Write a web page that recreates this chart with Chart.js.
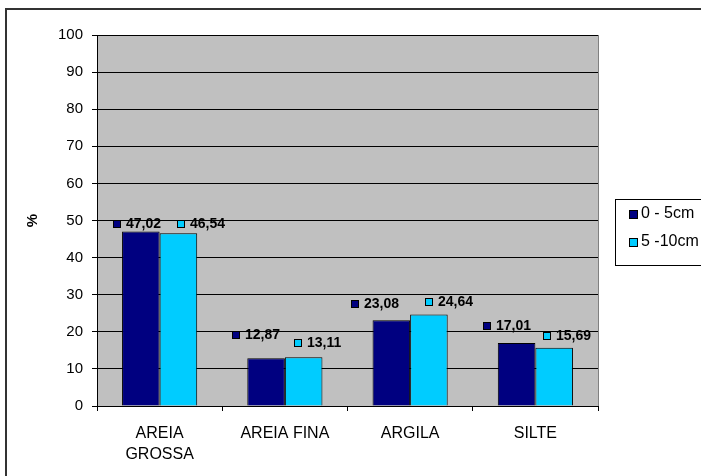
<!DOCTYPE html>
<html>
<head>
<meta charset="utf-8">
<script src="https://cdn.jsdelivr.net/npm/chart.js@4.4.1/dist/chart.umd.min.js"></script>
<style>
  html, body { margin: 0; padding: 0; background: #fff; }
  #chart { display: block; }
</style>
</head>
<body>
<canvas id="chart" width="701" height="476"></canvas>
<script>
// Granulometria por profundidade
const categories = [["AREIA", "GROSSA"], "AREIA FINA", "ARGILA", "SILTE"];
const seriesNames = ["0 - 5cm", "5 -10cm"];
const depth0to5 = [47.02, 12.87, 23.08, 17.01];
const depth5to10 = [46.54, 13.11, 24.64, 15.69];
const yTickValues = [0, 10, 20, 30, 40, 50, 60, 70, 80, 90, 100];

const seriesColors = ["#000080", "#00CCFF"];
const FONT = "'Liberation Sans', Arial, sans-serif";

// where each value label sits, in px from the bar's top-left corner
const labelShift = [
    [[-9, -8], [-15, -23], [-22, -16], [-15, -17]],
    [[17, -9], [9, -14], [15, -13], [8, -12]],
];

const fmt = (v) => v.toFixed(2).replace(".", ",");

const frame = {
    id: "frame",
    beforeDraw(chart) {
        const { ctx, chartArea: a } = chart;
        ctx.save();
        ctx.fillStyle = "#fff";
        ctx.fillRect(0, 0, chart.width, chart.height);
        // outer chart border
        ctx.strokeStyle = "#333";
        ctx.lineWidth = 2;
        ctx.beginPath();
        ctx.moveTo(6, chart.height);
        ctx.lineTo(6, 9);
        ctx.lineTo(chart.width, 9);
        ctx.stroke();
        // plot area
        ctx.fillStyle = "#C0C0C0";
        ctx.fillRect(a.left, a.top, a.right - a.left, a.bottom - a.top);
        ctx.strokeStyle = "#808080";
        ctx.lineWidth = 1;
        ctx.beginPath();
        ctx.moveTo(a.right + 0.5, a.top);
        ctx.lineTo(a.right + 0.5, a.bottom);
        ctx.stroke();
        ctx.restore();
    },
    afterDatasetsDraw(chart) {
        const { ctx } = chart;
        ctx.save();
        ctx.font = "bold 14px " + FONT;
        ctx.textBaseline = "middle";
        ctx.textAlign = "left";
        chart.data.datasets.forEach((ds, i) => {
            chart.getDatasetMeta(i).data.forEach((bar, j) => {
                const [dx, dy] = labelShift[i][j];
                const x = Math.round(bar.x - bar.width / 2 + dx);
                const y = Math.round(bar.y + dy);
                ctx.fillStyle = seriesColors[i];
                ctx.fillRect(x, y - 4, 7, 7);
                ctx.strokeStyle = "#000";
                ctx.lineWidth = 1;
                ctx.strokeRect(x + 0.5, y - 3.5, 7, 7);
                ctx.fillStyle = "#000";
                ctx.fillText(fmt(ds.data[j]), x + 13, y);
            });
        });
        ctx.restore();
    },
    afterDraw(chart) {
        const { ctx } = chart;
        ctx.save();
        // legend box
        ctx.fillStyle = "#fff";
        ctx.fillRect(615, 199, 100, 66);
        ctx.strokeStyle = "#000";
        ctx.lineWidth = 1;
        ctx.strokeRect(615.5, 199.5, 100, 66);
        ctx.font = "16px " + FONT;
        ctx.textBaseline = "middle";
        seriesNames.forEach((name, i) => {
            const y = 214 + i * 28;
            ctx.fillStyle = seriesColors[i];
            ctx.fillRect(629, y - 4, 8, 8);
            ctx.strokeRect(629.5, y - 3.5, 8, 8);
            ctx.fillStyle = "#000";
            ctx.fillText(name, 641, y);
        });
        ctx.restore();
    },
};

new Chart(document.getElementById("chart"), {
    type: "bar",
    data: {
        labels: categories,
        datasets: [
            { label: seriesNames[0], data: depth0to5, backgroundColor: seriesColors[0] },
            { label: seriesNames[1], data: depth5to10, backgroundColor: seriesColors[1] },
        ].map(d => ({ ...d, borderColor: "#000", borderWidth: 1, categoryPercentage: 0.6, barPercentage: 1 })),
    },
    plugins: [frame],
    options: {
        responsive: false,
        animation: false,
        layout: { padding: { top: 35, right: 103, bottom: 0, left: 20 } },
        plugins: { legend: { display: false }, tooltip: { enabled: false } },
        scales: {
            x: {
                afterFit: (s) => { s.height = 70; },
                grid: { offset: true, drawOnChartArea: false, color: "#000", tickLength: 5 },
                border: { color: "#000" },
                ticks: { color: "#000", font: { family: FONT, size: 16, lineHeight: 1.3 }, padding: 12, maxRotation: 0 },
            },
            y: {
                min: 0,
                max: 100,
                afterFit: (s) => { s.width = 77; },
                afterBuildTicks: (s) => { s.ticks = yTickValues.map(v => ({ value: v })); },
                grid: { color: "#000", tickLength: 5 },
                border: { color: "#000" },
                ticks: { color: "#000", font: { family: FONT, size: 15 }, padding: 9 },
                title: { display: true, text: "%", color: "#000", font: { family: FONT, size: 15, weight: "bold" }, padding: { top: 4, bottom: 0 } },
            },
        },
    },
});
</script>
</body>
</html>
